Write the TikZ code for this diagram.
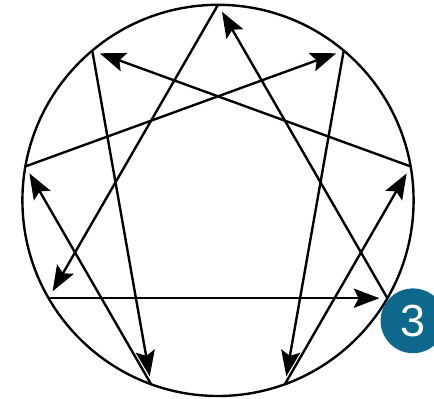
\documentclass[tikz,border=0pt]{standalone}
\usepackage{fontspec}
\setmainfont{Liberation Sans}
\usetikzlibrary{arrows.meta}
\definecolor{badgeblue}{RGB}{14,104,140}
\begin{document}
\begin{tikzpicture}[
  line/.style={draw, line width=1.7pt},
  arr/.style={line, -{Stealth[length=6.4mm, width=4.8mm, inset=1.2mm]}, shorten >=0.2cm},
  badge/.style={circle, fill=badgeblue, text=white, minimum size=1.62cm, inner sep=0pt,
    font=\fontsize{32}{33}\selectfont}
]
\clip (-5.45,-4.94) rectangle (5.4,5.01);

% Circle
\draw[line] (0,0) circle (4.89);

% Points on the circle
\coordinate (p9) at (90:4.89);
\coordinate (p1) at (50:4.89);
\coordinate (p2) at (10:4.89);
\coordinate (p3) at (-30:4.89);
\coordinate (p4) at (-70:4.89);
\coordinate (p5) at (-110:4.89);
\coordinate (p6) at (210:4.89);
\coordinate (p7) at (170:4.89);
\coordinate (p8) at (130:4.89);

% Triangle
\draw[arr] (p9) -- (p6);
\draw[arr] (p6) -- (p3);
\draw[arr] (p3) -- (p9);

% Hexad
\draw[arr] (p1) -- (p4);
\draw[arr] (p4) -- (p2);
\draw[arr] (p2) -- (p8);
\draw[arr] (p8) -- (p5);
\draw[arr] (p5) -- (p7);
\draw[arr] (p7) -- (p1);

% Badge
\node[badge] (num) at (4.875,-3.01) {3};

\end{tikzpicture}
\end{document}
